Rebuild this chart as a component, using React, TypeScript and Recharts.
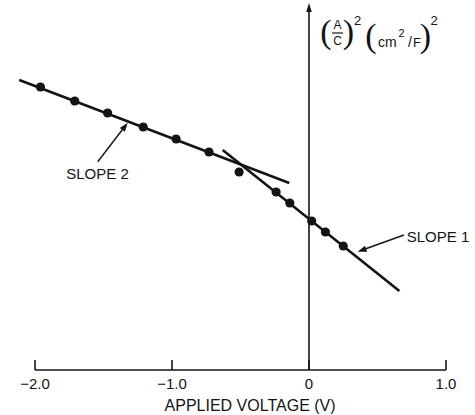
import React from "react";
import {
  ComposedChart,
  Line,
  Scatter,
  XAxis,
  YAxis,
  ReferenceLine,
  ReferenceDot,
  Label,
} from "recharts";

// measured points: applied voltage (V) vs (A/C)^2 (arbitrary units)
const voltage = [-1.96, -1.71, -1.47, -1.21, -0.97, -0.73, -0.51, -0.24, -0.14, 0.02, 0.12, 0.25];
const invCapSq = [2.83, 2.69, 2.57, 2.43, 2.31, 2.18, 1.98, 1.78, 1.67, 1.49, 1.38, 1.24];

// fitted straight lines (end points)
const slope1X = [-0.63, 0.66];
const slope1Y = [2.2, 0.79];
const slope2X = [-2.115, -0.144];
const slope2Y = [2.9, 1.87];

const xTicks = [-2, -1, 0, 1];
const yTop = 3.67;
const tickLen = 0.1;

// pointer labels: text position, arrow tail, arrow tip
const pointerLabels = ["SLOPE 2", "SLOPE 1"];
const pointerText = [[-1.544, 1.97], [0.942, 1.34]];
const pointerTail = [[-1.542, 2.083], [0.693, 1.35]];
const pointerTip = [[-1.323, 2.473], [0.355, 1.183]];

const points = voltage.map((x, i) => ({ x, y: invCapSq[i] }));
const slope1 = slope1X.map((x, i) => ({ x, y: slope1Y[i] }));
const slope2 = slope2X.map((x, i) => ({ x, y: slope2Y[i] }));

const INK = "#141414";
const FONT = "'Liberation Sans', Arial, sans-serif";
const PAREN = "'Liberation Serif', serif";

const fmtTick = (v: number) => (v === 0 ? "0" : v.toFixed(1).replace("-", "\u2212"));

const Arrow = (props: any) => {
  const { x1, y1, x2, y2, head = 9, half = 3, width = 1.4 } = props;
  const a = Math.atan2(y2 - y1, x2 - x1);
  const bx = x2 - head * Math.cos(a);
  const by = y2 - head * Math.sin(a);
  const s = Math.sin(a);
  const c = Math.cos(a);
  const pts = `${x2},${y2} ${bx + half * s},${by - half * c} ${bx - half * s},${by + half * c}`;
  return (
    <g>
      <line x1={x1} y1={y1} x2={bx + c} y2={by + s} stroke={INK} strokeWidth={width} />
      <polygon points={pts} fill={INK} />
    </g>
  );
};

const Dot = (props: any) => <circle cx={props.cx} cy={props.cy} r={4.6} fill={INK} />;

const textShape = (value: string) => (props: any) => (
  <text
    x={props.cx}
    y={props.cy}
    textAnchor="middle"
    dominantBaseline="central"
    fontFamily={FONT}
    fontSize={15}
    fill={INK}
  >
    {value}
  </text>
);

const YTitle = (props: any) => {
  const { cx, cy } = props;
  const t = (dx: number, dy: number, s: string, size: number, anchor = "start", fam = FONT) => (
    <text x={cx + dx} y={cy + dy} fontSize={size} fontFamily={fam} fill={INK} textAnchor={anchor}>
      {s}
    </text>
  );
  return (
    <g>
      {t(17, 40, "(", 34, "middle", PAREN)}
      {t(28.5, 26, "A", 12, "middle")}
      <line x1={cx + 23} x2={cx + 34} y1={cy + 30} y2={cy + 30} stroke={INK} strokeWidth={1.2} />
      {t(28.5, 42, "C", 12, "middle")}
      {t(39.5, 40, ")", 34, "middle", PAREN)}
      {t(48.5, 22, "2", 13, "middle")}
      {t(62, 44, "(", 34, "middle", PAREN)}
      {t(69, 44, "cm", 14)}
      {t(92.5, 34, "2", 11, "middle")}
      {t(101, 44, "/", 14, "middle")}
      {t(104, 44, "F", 13)}
      {t(116.5, 44, ")", 34, "middle", PAREN)}
      {t(125, 22, "2", 13, "middle")}
    </g>
  );
};

export default function App() {
  return (
    <div style={{ position: "absolute", left: 0, top: 0, background: "#fff" }}>
      <ComposedChart
        width={475}
        height={415}
        margin={{ top: 3, right: 15.3, bottom: 0, left: 14.45 }}
      >
        <XAxis
          type="number"
          dataKey="x"
          domain={[-2.15, 1.1]}
          ticks={xTicks}
          tickFormatter={fmtTick}
          axisLine={false}
          tickLine={false}
          height={45}
          tick={{ fill: INK, fontSize: 15, fontFamily: FONT }}
        >
          <Label
            value="APPLIED VOLTAGE (V)"
            position="insideBottom"
            offset={4}
            dx={13}
            style={{ fill: INK, fontSize: 16, fontFamily: FONT }}
          />
        </XAxis>
        <YAxis type="number" dataKey="y" domain={[0, yTop]} hide />

        {/* horizontal axis with upward ticks */}
        <ReferenceLine
          segment={[{ x: xTicks[0], y: 0 }, { x: xTicks[xTicks.length - 1], y: 0 }]}
          stroke={INK}
          strokeWidth={1.6}
          ifOverflow="visible"
        />
        {xTicks.map((t) => (
          <ReferenceLine
            key={t}
            segment={[{ x: t, y: 0 }, { x: t, y: tickLen }]}
            stroke={INK}
            strokeWidth={1.6}
            ifOverflow="visible"
          />
        ))}
        {/* vertical axis with arrow */}
        <ReferenceLine
          segment={[{ x: 0, y: 0 }, { x: 0, y: yTop }]}
          ifOverflow="visible"
          shape={(p: any) => <Arrow {...p} head={9} half={2.8} width={1.6} />}
        />
        <ReferenceDot x={0} y={yTop} ifOverflow="visible" shape={(p: any) => <YTitle {...p} />} />

        <Line
          data={slope2}
          dataKey="y"
          type="linear"
          stroke={INK}
          strokeWidth={2.6}
          dot={false}
          isAnimationActive={false}
        />
        <Line
          data={slope1}
          dataKey="y"
          type="linear"
          stroke={INK}
          strokeWidth={2.6}
          dot={false}
          isAnimationActive={false}
        />
        <Scatter data={points} dataKey="y" shape={Dot} isAnimationActive={false} />

        {pointerLabels.map((lab, i) => (
          <ReferenceLine
            key={lab + "-arrow"}
            segment={[
              { x: pointerTail[i][0], y: pointerTail[i][1] },
              { x: pointerTip[i][0], y: pointerTip[i][1] },
            ]}
            ifOverflow="visible"
            shape={(p: any) => <Arrow {...p} head={9} half={3.2} width={1.4} />}
          />
        ))}
        {pointerLabels.map((lab, i) => (
          <ReferenceDot
            key={lab}
            x={pointerText[i][0]}
            y={pointerText[i][1]}
            ifOverflow="visible"
            shape={textShape(lab)}
          />
        ))}
      </ComposedChart>
    </div>
  );
}
